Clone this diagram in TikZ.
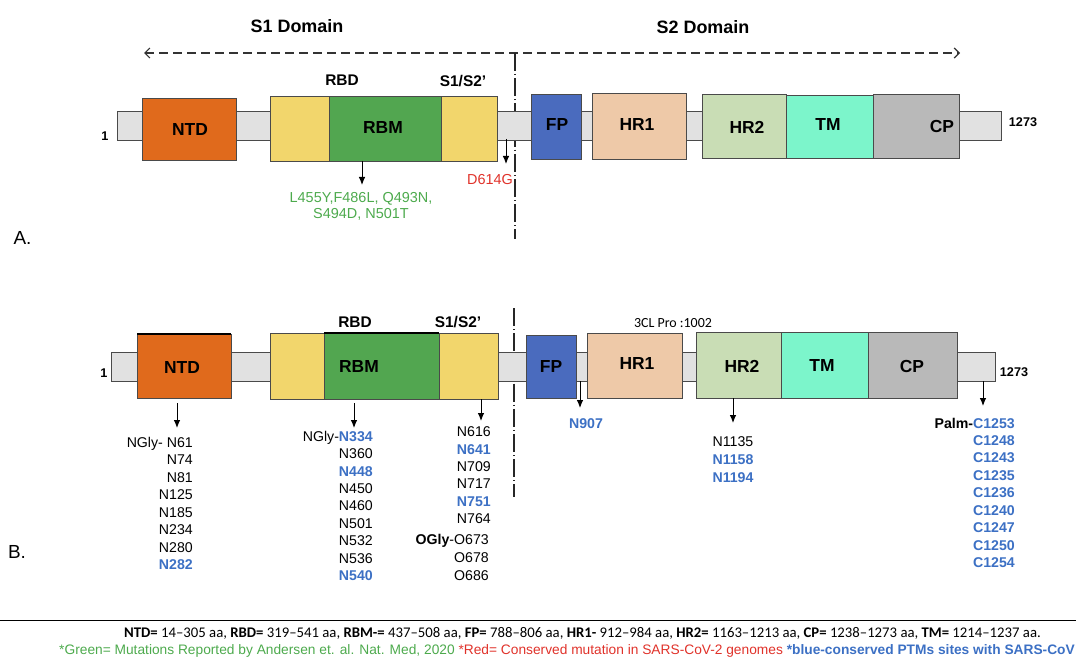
\documentclass[tikz,border=0pt]{standalone}
\usepackage{fontspec}
\setmainfont{Liberation Sans}
\newfontfamily\carlito{Carlito}
\usetikzlibrary{arrows.meta}
\definecolor{ntdc}{HTML}{E06A1C}
\definecolor{yelc}{HTML}{F2D66C}
\definecolor{rbmc}{HTML}{52A650}
\definecolor{fpc}{HTML}{4A6BBE}
\definecolor{hrAc}{HTML}{EEC9A8}
\definecolor{hrBc}{HTML}{C9DDB5}
\definecolor{tmc}{HTML}{7CF5CB}
\definecolor{cpc}{HTML}{B9B9B9}
\definecolor{barc}{HTML}{E1E1E1}
\definecolor{edgec}{HTML}{4A4A4A}
\definecolor{grtxt}{HTML}{4DAA4D}
\definecolor{redtxt}{HTML}{E0322A}
\definecolor{bltxt}{HTML}{3C70C4}
\newcommand\bl[1]{\textcolor{bltxt}{\bfseries #1}}
\newcommand\mybox[6]{\node[box, fill=#6, minimum width={(#4-#2)*1bp}, minimum height={(#5-#3)*1bp}] (#1) at ({(#2+#4)/2},{(#3+#5)/2}) {};}
\tikzset{
  box/.style={draw=edgec, line width=0.9bp, inner sep=0pt, outer sep=0pt},
  lbl/.style={font=\bfseries\fontsize{17.5}{20}\selectfont, inner sep=0pt},
  sublbl/.style={font=\bfseries\fontsize{15.5}{18}\selectfont, inner sep=0pt},
  numlbl/.style={font=\bfseries\fontsize{12.7}{15}\selectfont, inner sep=0pt},
  panel/.style={font=\fontsize{19}{22}\selectfont, inner sep=0pt},
  dom/.style={font=\bfseries\fontsize{18}{21}\selectfont, inner sep=0pt},
  arr/.style={-{Latex[length=8bp,width=6.5bp]}, line width=0.9bp},
  domarrow/.style={{Straight Barb[length=5bp,width=10bp]}-{Straight Barb[length=5bp,width=10bp]}, line width=1.2bp, draw=black!80, dash pattern=on 9bp off 5bp},
  divider/.style={line width=1.1bp, draw=black!85, dash pattern=on 18bp off 3bp on 1.2bp off 3bp},
  sitelist/.style={inner sep=0pt, font=\fontsize{14.2}{17.6}\selectfont}
}
\begin{document}
\begin{tikzpicture}[x=1bp,y=-1bp]
\useasboundingbox (0,0) rectangle (1076,666);
% ================= Panel A =================
\node[dom] (s1dom) at (297,26) {S1 Domain};
\node[dom] (s2dom) at (703,27) {S2 Domain};
\coordinate (dl) at (144,53);
\coordinate (dr) at (960,53);
\draw[domarrow] (dl) -- (dr);
\coordinate (vAt) at (515,53);
\coordinate (vAb) at (515,239);
\draw[divider] (vAt) -- (vAb);

\mybox{barA}{117}{111}{1001}{140}{barc}
\mybox{ntdA}{142}{98}{236}{160}{ntdc}
\mybox{rbdA}{270}{96}{497}{161}{yelc}
\mybox{rbmA}{329}{96}{441}{161}{rbmc}
\mybox{fpA}{531}{94}{581}{159}{fpc}
\mybox{hrAA}{592}{93}{686}{159}{hrAc}
\mybox{hrBA}{702}{94}{786}{158}{hrBc}
\mybox{tmA}{786}{95}{873}{158}{tmc}
\mybox{cpA}{873}{94}{959}{158}{cpc}

\node[numlbl] (oneA) at (105,136) {1};
\node[numlbl] (endA) at (1023,122) {1273};
\node[lbl] (ntdAl) at (190,130) {NTD};
\node[lbl] (rbmAl) at (383,128) {RBM};
\node[sublbl] (rbdAl) at (342,80) {RBD};
\node[sublbl] (s12Al) at (463,81) {S1/S2’};
\node[lbl] (fpAl) at (557,125) {FP};
\node[lbl] (hrAAl) at (637,125) {HR1};
\node[lbl] (hrBAl) at (747,127) {HR2};
\node[lbl] (tmAl) at (828,125) {TM};
\node[lbl] (cpAl) at (942,126) {CP};

\coordinate (mAs) at (362,161);
\coordinate (mAe) at (362,185);
\draw[arr] (mAs) -- (mAe);
\node[inner sep=0pt, anchor=north, align=center, text=grtxt, font=\fontsize{14.5}{16}\selectfont] (mutA) at (361,191.8) {L455Y,F486L, Q493N,\\S494D, N501T};
\coordinate (dAs) at (506,139);
\coordinate (dAe) at (506,164);
\draw[arr] (dAs) -- (dAe);
\node[inner sep=0pt, text=redtxt, font=\fontsize{14.5}{16}\selectfont] (d614) at (490,180) {D614G};
\node[panel] (pA) at (22.5,238) {A.};

% ================= Panel B =================
\coordinate (vBt) at (514,308);
\coordinate (vBb) at (514,497);
\draw[divider] (vBt) -- (vBb);

\mybox{barB}{111}{352}{995}{381}{barc}
\mybox{ntdB}{137}{334}{231}{398}{ntdc}
\mybox{rbdB}{270}{333}{498}{399}{yelc}
\mybox{rbmB}{324}{333}{439}{399}{rbmc}
\mybox{fpB}{526}{335}{576}{398}{fpc}
\mybox{hrAB}{587}{333}{682}{398}{hrAc}
\mybox{hrBB}{696}{332}{781}{398}{hrBc}
\mybox{tmB}{781}{332}{868}{398}{tmc}
\mybox{cpB}{868}{332}{957}{398}{cpc}
\draw[line width=1.6bp] (ntdB.north west) -- (ntdB.north east);
\draw[line width=1.6bp] (rbmB.north west) -- (rbmB.north east);

\node[numlbl] (oneB) at (104,373) {1};
\node[numlbl] (endB) at (1014,372) {1273};
\node[lbl] (ntdBl) at (182,367.5) {NTD};
\node[lbl] (rbmBl) at (359,367) {RBM};
\node[sublbl] (rbdBl) at (355,322) {RBD};
\node[sublbl] (s12Bl) at (458,322) {S1/S2’};
\node[lbl] (fpBl) at (551,367) {FP};
\node[lbl] (hrABl) at (637,364) {HR1};
\node[lbl] (hrBBl) at (742,366) {HR2};
\node[lbl] (tmBl) at (822,366) {TM};
\node[lbl] (cpBl) at (912,366) {CP};
\node[inner sep=0pt, font=\carlito\fontsize{14}{16}\selectfont] (clpro) at (673,323) {3CL Pro :1002};

% arrows to site lists
\coordinate (nBs) at (177,403);  \coordinate (nBe) at (177,428);
\coordinate (rBs) at (354,403);  \coordinate (rBe) at (354,428);
\coordinate (sBs) at (481,399);  \coordinate (sBe) at (481,421);
\coordinate (fBs) at (580,381);  \coordinate (fBe) at (580,408);
\coordinate (hBs) at (733,398);  \coordinate (hBe) at (733,423);
\coordinate (cBs) at (983,381);  \coordinate (cBe) at (983,406);
\draw[arr] (nBs) -- (nBe);
\draw[arr] (rBs) -- (rBe);
\draw[arr] (sBs) -- (sBe);
\draw[arr] (fBs) -- (fBe);
\draw[arr] (hBs) -- (hBe);
\draw[arr] (cBs) -- (cBe);

\node[sitelist, anchor=north east, align=right] (ntdL) at (193,436.6)
  {NGly- N61\\N74\\N81\\N125\\N185\\N234\\N280\\\bl{N282}};
\node[sitelist, anchor=north east, align=right, font=\fontsize{14.2}{17.54}\selectfont] (rbmL) at (373,430.6)
  {NGly-\bl{N334}\\N360\\\bl{N448}\\N450\\N460\\N501\\N532\\N536\\\bl{N540}};
\node[sitelist, anchor=north east, align=right, font=\fontsize{14.2}{17.46}\selectfont] (s12L) at (491,426.6)
  {N616\\\bl{N641}\\N709\\N717\\\bl{N751}\\N764};
\node[sitelist, anchor=north east, align=right, font=\fontsize{14.2}{17.85}\selectfont] (oglyL) at (489,534.2)
  {\textbf{OGly}-O673\\O678\\O686};
\node[sitelist, anchor=center] (fpL) at (586,424) {\bl{N907}};
\node[sitelist, anchor=north, align=center, font=\fontsize{14.2}{17.8}\selectfont] (hr2L) at (733,436.6)
  {N1135\\\bl{N1158}\\\bl{N1194}};
\node[sitelist, anchor=north east, align=right, font=\fontsize{14.2}{17.5}\selectfont] (palmL) at (1015,417.6)
  {\textbf{Palm-}\bl{C1253}\\\bl{C1248}\\\bl{C1243}\\\bl{C1235}\\\bl{C1236}\\\bl{C1240}\\\bl{C1247}\\\bl{C1250}\\\bl{C1254}};
\node[panel] (pB) at (17,552) {B.};

% ================= Footer =================
\coordinate (rl) at (0,620.7);
\coordinate (rr) at (1076,620.7);
\draw[line width=1bp] (rl) -- (rr);
\node[inner sep=0pt, anchor=base east, font=\carlito\fontsize{14.8}{16}\selectfont] (foot1) at (1041,637.4)
  {\textbf{NTD=} 14–305 aa, \textbf{RBD=} 319–541 aa, \textbf{RBM-=} 437–508 aa, \textbf{FP=} 788–806 aa, \textbf{HR1-} 912–984 aa, \textbf{HR2=} 1163–1213 aa, \textbf{CP=} 1238–1273 aa, \textbf{TM=} 1214–1237 aa.};
\node[inner sep=0pt, anchor=base east, font=\fontsize{13.8}{15}\selectfont] (foot2) at (1075,654.9)
  {\textcolor{grtxt}{*Green= Mutations Reported by Andersen et. al. Nat. Med, 2020} \textcolor{redtxt}{*Red= Conserved mutation in SARS-CoV-2 genomes} \textcolor{bltxt}{\bfseries *blue-conserved PTMs sites with SARS-CoV}};
\end{tikzpicture}
\end{document}
